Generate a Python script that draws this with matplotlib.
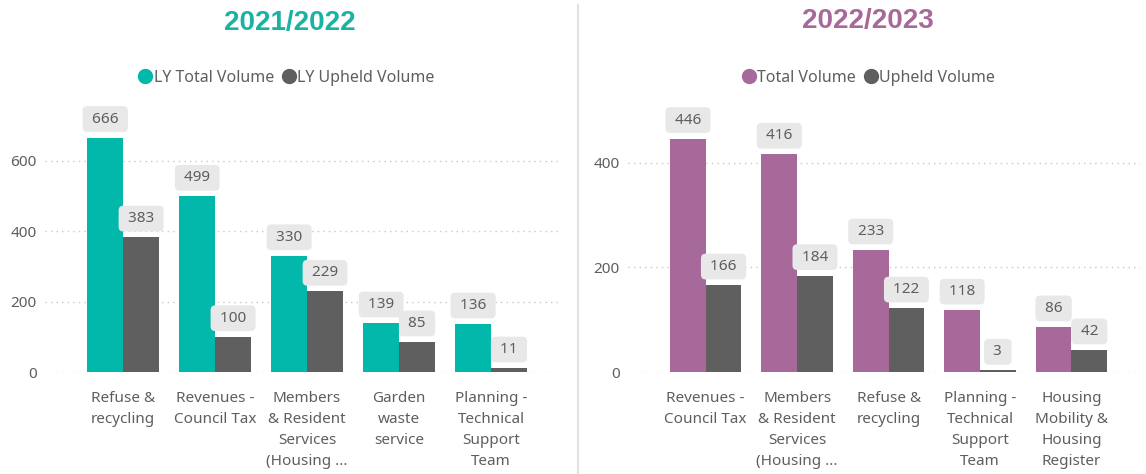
import matplotlib.pyplot as plt
from matplotlib.lines import Line2D
import numpy as np

plt.rcParams['font.family'] = ['Noto Sans', 'DejaVu Sans']

# 2021/2022 data
cats1 = ['Refuse &\nrecycling', 'Revenues -\nCouncil Tax', 'Members\n& Resident\nServices\n(Housing ...',
         'Garden\nwaste\nservice', 'Planning -\nTechnical\nSupport\nTeam']
total1 = [666, 499, 330, 139, 136]
upheld1 = [383, 100, 229, 85, 11]

# 2022/2023 data
cats2 = ['Revenues -\nCouncil Tax', 'Members\n& Resident\nServices\n(Housing ...', 'Refuse &\nrecycling',
         'Planning -\nTechnical\nSupport\nTeam', 'Housing\nMobility &\nHousing\nRegister']
total2 = [446, 416, 233, 118, 86]
upheld2 = [166, 184, 122, 3, 42]

teal = '#01B8AA'
purple = '#A66999'
grey = '#5F5F5F'
txt = '#605E5C'

W, H = 1146, 474
fig = plt.figure(figsize=(W / 100, H / 100), dpi=100)

def px(x0, x1, ytop, ybot):
    return [x0 / W, 1 - ybot / H, (x1 - x0) / W, (ybot - ytop) / H]

def panel(rect, cats, tot, uph, col, ymax, yticks):
    ax = fig.add_axes(rect)
    x = np.arange(len(cats))
    w = 0.39
    b1 = ax.bar(x - w / 2, tot, w, color=col)
    b2 = ax.bar(x + w / 2, uph, w, color=grey)
    for bars in (b1, b2):
        for r in bars:
            ax.annotate(' %d ' % r.get_height(), (r.get_x() + r.get_width() / 2, r.get_height()),
                        xytext=(0, 8), textcoords='offset points', ha='center', va='bottom',
                        fontsize=11, color=txt,
                        bbox=dict(boxstyle='round,pad=0.35,rounding_size=0.3', fc='#E8E8E8', ec='none'))
    ax.set_xlim(-0.85, 4.75)
    ax.set_ylim(0, ymax)
    ax.set_yticks(yticks)
    ax.set_xticks(x)
    ax.set_xticklabels(cats, fontsize=11, color=txt, linespacing=1.52, va='top')
    ax.tick_params(axis='both', length=0, labelsize=11, labelcolor=txt)
    ax.tick_params(axis='x', pad=14)
    ax.tick_params(axis='y', pad=6)
    ax.grid(axis='y', linestyle=(0, (1, 3)), color='#C8C8C8', linewidth=1)
    ax.set_axisbelow(True)
    for s in ax.spines.values():
        s.set_visible(False)
    return ax

panel(px(45, 560, 100, 372), cats1, total1, upheld1, teal, 773, [0, 200, 400, 600])
panel(px(628, 1140, 100, 372), cats2, total2, upheld2, purple, 520, [0, 200, 400])

fig.text(290 / W, 1 - 23 / H, '2021/2022', ha='center', va='center', fontsize=20,
         fontweight='bold', color='#1AB3A3', family='Liberation Sans')
fig.text(868 / W, 1 - 21 / H, '2022/2023', ha='center', va='center', fontsize=20,
         fontweight='bold', color='#A66999', family='Liberation Sans')

def leg(names, cols, xc):
    h = [Line2D([], [], marker='o', ls='none', color=c, markersize=10) for c in cols]
    fig.legend(h, names, loc='center', bbox_to_anchor=(xc / W, 1 - 78 / H), ncol=2, frameon=False,
               fontsize=11.5, labelcolor=txt, handletextpad=0.05, columnspacing=0.4, handlelength=1)

leg(['LY Total Volume', 'LY Upheld Volume'], [teal, grey], 286)
leg(['Total Volume', 'Upheld Volume'], [purple, grey], 868)

fig.add_artist(Line2D([578 / W, 578 / W], [0, 1 - 5 / H], color='#E1E1E1', lw=1.5))

fig.savefig('out.png', dpi=100, facecolor='white')
